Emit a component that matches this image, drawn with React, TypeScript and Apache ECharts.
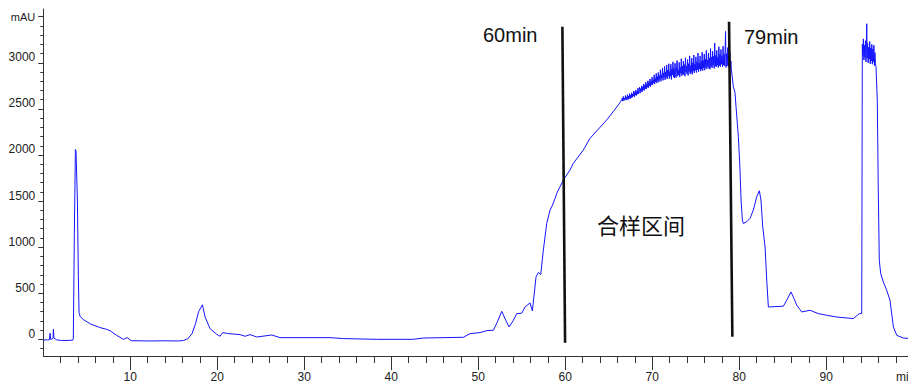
import React, { useEffect, useRef } from "react";
import * as echarts from "echarts";

// Chromatogram trace, [time (min), absorbance (mAU)]
const injectionTrace: [number, number][] = [
  [0.0, -8], [0.5, -5], [0.7, -5], [0.78, 65], [0.85, 0], [1.05, 5], [1.12, 10], [1.16, 110],
  [1.22, 15], [1.35, 5], [1.5, -5], [2.0, -12], [3.0, -12], [3.4, -8], [3.45, 10], [3.57, 1150],
  [3.69, 2060], [3.76, 2040], [3.92, 1510], [4.03, 680], [4.11, 290], [4.25, 245], [4.6, 215],
  [5.4, 168], [6.5, 128], [7.3, 108], [7.7, 92], [8.4, 45], [9.2, 0], [9.65, 18], [10.1, -15],
  [12.0, -18], [14.0, -16], [15.5, -18], [16.1, -13], [16.6, 5], [17.1, 62], [17.5, 170],
  [17.85, 300], [18.29, 375], [18.6, 242], [19.17, 116], [19.94, 54], [20.32, 33], [20.63, 73],
];
const baselineTrace: [number, number][] = [
  [21.28, 62], [22.62, 51], [23.2, 33], [23.77, 51], [24.54, 25], [26.26, 47], [27.22, 18],
  [32.97, 18], [34.5, 8], [38.33, 0], [42.54, 0], [43.69, 14], [48.29, 22], [49.06, 62],
  [50.21, 73], [50.98, 95], [51.74, 98], [52.2, 190], [52.7, 304], [53.1, 220], [53.54, 134],
  [54.0, 200], [54.43, 279], [55.0, 283], [55.38, 351], [55.95, 395], [56.22, 308], [56.64, 677],
  [56.91, 725], [57.18, 703], [57.48, 967], [57.87, 1257], [58.25, 1402], [58.45, 1438],
  [58.83, 1529], [59.02, 1584], [59.78, 1728], [60.55, 1837], [60.93, 1910], [62.08, 2054],
  [62.85, 2181], [64.77, 2380], [66.1, 2543],
];
const collectionTrace: [number, number][] = [
  [66.5, 2598], [66.56, 2620], [66.62, 2585], [66.68, 2635], [66.74, 2590], [66.8, 2615],
  [66.86, 2600], [66.92, 2645], [66.98, 2595], [67.04, 2630], [67.1, 2605], [67.16, 2655],
  [67.22, 2600], [67.28, 2640], [67.34, 2615], [67.4, 2665], [67.46, 2610],
  [67.52, 2650], [67.58, 2620], [67.64, 2675], [67.7, 2625], [67.76, 2660], [67.82, 2640],
  [67.88, 2695], [67.94, 2630], [68.0, 2680], [68.06, 2650], [68.12, 2705], [68.18, 2645],
  [68.24, 2690], [68.3, 2660], [68.36, 2725], [68.42, 2665], [68.48, 2700],
  [68.54, 2735], [68.6, 2670], [68.66, 2720], [68.72, 2690], [68.78, 2750], [68.84, 2685],
  [68.9, 2740], [68.96, 2705], [69.02, 2770], [69.08, 2700], [69.14, 2755], [69.2, 2720],
  [69.26, 2790], [69.32, 2715], [69.38, 2765], [69.44, 2735], [69.5, 2805],
  [69.56, 2730], [69.62, 2790], [69.68, 2750], [69.74, 2825], [69.8, 2740], [69.86, 2800],
  [69.92, 2765], [69.98, 2845], [70.04, 2760], [70.1, 2815], [70.16, 2780], [70.22, 2870],
  [70.28, 2770], [70.34, 2830], [70.4, 2795], [70.46, 2885], [70.52, 2780],
  [70.58, 2850], [70.64, 2805], [70.7, 2895], [70.76, 2790], [70.82, 2860], [70.88, 2820],
  [70.94, 2925], [71.0, 2800], [71.06, 2870], [71.12, 2835], [71.18, 2945], [71.24, 2810],
  [71.3, 2890], [71.36, 2840], [71.42, 2960], [71.48, 2815], [71.54, 2900],
  [71.6, 2845], [71.66, 2975], [71.72, 2825], [71.78, 2920], [71.84, 2860], [71.9, 2990],
  [71.96, 2830], [72.02, 2905], [72.08, 2855], [72.14, 2985], [72.2, 2820], [72.26, 2930],
  [72.32, 2870], [72.38, 3010], [72.44, 2845], [72.5, 2940], [72.56, 2835],
  [72.62, 2995], [72.68, 2880], [72.74, 2840], [72.8, 2960], [72.86, 3025], [72.92, 2855],
  [72.98, 2920], [73.04, 2870], [73.1, 3005], [73.16, 2845], [73.22, 2950], [73.28, 2885],
  [73.34, 3045], [73.4, 2860], [73.46, 2965], [73.52, 2875], [73.58, 3020],
  [73.64, 2870], [73.7, 2980], [73.76, 2855], [73.82, 3055], [73.88, 2900], [73.94, 2960],
  [74.0, 2880], [74.06, 3035], [74.12, 2865], [74.18, 2990], [74.24, 2905], [74.3, 3075],
  [74.36, 2880], [74.42, 2970], [74.48, 2895], [74.54, 3050], [74.6, 2875],
  [74.66, 3000], [74.72, 2910], [74.78, 3085], [74.84, 2890], [74.9, 2985], [74.96, 2920],
  [75.02, 3065], [75.08, 2895], [75.14, 3010], [75.2, 2925], [75.26, 3105], [75.32, 2900],
  [75.38, 2995], [75.44, 2935], [75.5, 3075], [75.56, 2910], [75.62, 3020],
  [75.68, 2930], [75.74, 3115], [75.8, 2915], [75.86, 3025], [75.92, 2945], [75.98, 3095],
  [76.04, 2920], [76.1, 3040], [76.16, 2950], [76.22, 3135], [76.28, 2935], [76.34, 3030],
  [76.4, 2960], [76.46, 3105], [76.52, 2940], [76.58, 3050], [76.64, 2930],
  [76.7, 3155], [76.76, 2960], [76.82, 3060], [76.88, 2945], [76.94, 3125], [77.0, 2975],
  [77.06, 3070], [77.12, 2940], [77.18, 3215], [77.24, 2965], [77.3, 3080], [77.36, 2955],
  [77.42, 3135], [77.48, 2975], [77.54, 3060], [77.6, 2950], [77.66, 3175],
  [77.72, 2970], [77.78, 3090], [77.84, 2960], [77.9, 3145], [77.96, 2985], [78.02, 3070],
  [78.08, 2955], [78.14, 3180], [78.2, 2975], [78.26, 3095], [78.32, 2965], [78.38, 3155],
  [78.43, 3340], [78.48, 2950], [78.56, 3100], [78.62, 2970], [78.68, 3165],
  [78.74, 2960], [78.8, 3080], [78.86, 2950], [78.92, 3120], [78.98, 2945], [79.04, 3020],
  [79.1, 2924],
];
const washTrace: [number, number][] = [
  [79.32, 2742], [79.51, 2680], [79.63, 2525], [79.9, 2199], [80.09, 1837], [80.21, 1511],
  [80.36, 1294], [80.47, 1257], [80.86, 1275], [81.24, 1312], [81.62, 1402], [82.01, 1547],
  [82.31, 1612], [82.5, 1511], [82.7, 1221], [82.97, 1003], [83.16, 641], [83.35, 351],
  [85.07, 359], [85.46, 424], [85.95, 514], [86.3, 442], [86.61, 370], [87.18, 297],
  [88.14, 315], [89.09, 279], [90.06, 261], [91.21, 242], [93.12, 225], [93.81, 279],
  [94.08, 279], [94.15, 3200], [94.21, 3080], [94.27, 3260], [94.33, 3030], [94.39, 3190],
  [94.45, 3060], [94.51, 3240], [94.57, 3010], [94.63, 3300], [94.66, 3424], [94.7, 3050],
  [94.76, 3210], [94.82, 3000], [94.88, 3170], [94.94, 3040], [95.0, 3230], [95.06, 2990],
  [95.12, 3160], [95.18, 3020], [95.24, 3200], [95.3, 2985], [95.36, 3150], [95.42, 3010],
  [95.48, 3190], [95.54, 2970], [95.6, 3110], [95.66, 2990], [95.72, 2960],
  [95.87, 2598], [95.98, 1655], [96.1, 859], [96.26, 714], [96.56, 623], [96.95, 533],
  [97.33, 424], [97.72, 134], [98.11, 43], [98.87, 14], [99.4, 10],
];

// Hand-drawn cut markers
const cut60Line: [number, number][] = [[59.67, 3392], [59.98, -37]];
const cut79Line: [number, number][] = [[78.83, 3446], [79.21, 28]];

// Axis ticks and labels
const xMajorTicks = [10, 20, 30, 40, 50, 60, 70, 80, 90];
const xMinorTicks = [2, 4, 6, 8, 10, 12, 14, 16, 18, 20, 22, 24, 26, 28, 30, 32, 34, 36, 38, 40,
  42, 44, 46, 48, 50, 52, 54, 56, 58, 60, 62, 64, 66, 68, 70, 72, 74, 76, 78, 80, 82, 84, 86, 88,
  90, 92, 94, 96, 98];
const yMajorTicks = [0, 500, 1000, 1500, 2000, 2500, 3000, 3500];
const yMinorTicks = [-100, 0, 100, 200, 300, 400, 500, 600, 700, 800, 900, 1000, 1100, 1200,
  1300, 1400, 1500, 1600, 1700, 1800, 1900, 2000, 2100, 2200, 2300, 2400, 2500, 2600, 2700,
  2800, 2900, 3000, 3100, 3200, 3300, 3400, 3500];

const X_MIN = 0;
const X_MAX = 99.4;
const Y_MIN = -181;
const Y_MAX = 3584;

export default function App() {
  const ref = useRef<HTMLDivElement>(null);
  useEffect(() => {
    if (!ref.current) return;
    const chart = echarts.init(ref.current, null, { renderer: "svg" });
    const trace = [...injectionTrace, ...baselineTrace, ...collectionTrace, ...washTrace];
    const axisColor = "#333";
    const labelFont = "'Liberation Sans Narrow', 'Arial Narrow', 'Liberation Sans', Arial, sans-serif";
    chart.setOption({
      animation: false,
      backgroundColor: "#fff",
      grid: { left: 43.3, right: 0, top: 9, bottom: 29, containLabel: false },
      xAxis: [
        {
          type: "value", min: X_MIN, max: X_MAX, position: "bottom",
          axisLine: { show: true, onZero: false, lineStyle: { color: axisColor, width: 1 } },
          axisTick: { show: true, customValues: xMajorTicks, length: 14, lineStyle: { color: axisColor } },
          axisLabel: {
            show: true, customValues: xMajorTicks, margin: 15, fontSize: 12, color: "#222",
            fontFamily: labelFont,
          },
          splitLine: { show: false },
        },
        {
          type: "value", min: X_MIN, max: X_MAX, position: "bottom",
          axisLine: { show: false, onZero: false },
          axisTick: { show: true, customValues: xMinorTicks, length: 7, lineStyle: { color: axisColor } },
          axisLabel: { show: false },
          splitLine: { show: false },
        },
      ],
      yAxis: [
        {
          type: "value", min: Y_MIN, max: Y_MAX, position: "left",
          axisLine: { show: true, onZero: false, lineStyle: { color: axisColor, width: 1 } },
          axisTick: { show: true, customValues: yMajorTicks, length: 5, lineStyle: { color: axisColor } },
          axisLabel: {
            show: true, customValues: yMajorTicks, margin: 8, color: "#222", fontSize: 12,
            fontFamily: "'Liberation Sans', Arial, sans-serif",
            verticalAlign: "middle",
            formatter: (v: number) => (v === 3500 ? "{u|mAU}" : `{n|${v}}`),
            rich: {
              n: { fontSize: 12, padding: [0, 0, 11, 0], fontFamily: "'Liberation Sans', Arial, sans-serif", color: "#222" },
              u: { fontSize: 11, fontFamily: "'Liberation Sans', Arial, sans-serif", color: "#222" },
            },
          },
          splitLine: { show: false },
        },
        {
          type: "value", min: Y_MIN, max: Y_MAX, position: "left",
          axisLine: { show: false, onZero: false },
          axisTick: { show: true, customValues: yMinorTicks, length: 3, lineStyle: { color: axisColor } },
          axisLabel: { show: false },
          splitLine: { show: false },
        },
      ],
      series: [
        {
          type: "line", data: trace, xAxisIndex: 0, yAxisIndex: 0, showSymbol: false,
          symbol: "none", lineStyle: { color: "#1414ff", width: 1 },
          z: 2,
        },
        {
          type: "line", data: cut60Line, xAxisIndex: 0, yAxisIndex: 0, symbol: "none",
          lineStyle: { color: "#111", width: 2.6 }, z: 3,
        },
        {
          type: "line", data: cut79Line, xAxisIndex: 0, yAxisIndex: 0, symbol: "none",
          lineStyle: { color: "#111", width: 2.6 }, z: 3,
        },
      ],
      graphic: [
        {
          type: "text", left: 483, top: 25,
          style: { text: "60min", fontSize: 20, fill: "#111", fontFamily: "'Liberation Sans', Arial, sans-serif" },
        },
        {
          type: "text", left: 744, top: 27,
          style: { text: "79min", fontSize: 20, fill: "#111", fontFamily: "'Liberation Sans', Arial, sans-serif" },
        },
        {
          type: "text", left: 597, top: 213,
          style: { text: "合样区间", fontSize: 22, fill: "#111", fontFamily: "'Noto Sans CJK SC', sans-serif" },
        },
        {
          type: "text", left: 896, top: 371,
          style: { text: "min", fontSize: 12, fill: "#222", fontFamily: labelFont },
        },
      ],
    });
    return () => chart.dispose();
  }, []);
  return (
    <div
      ref={ref}
      style={{ position: "absolute", left: 0, top: 0, width: 908, height: 385 }}
    />
  );
}
